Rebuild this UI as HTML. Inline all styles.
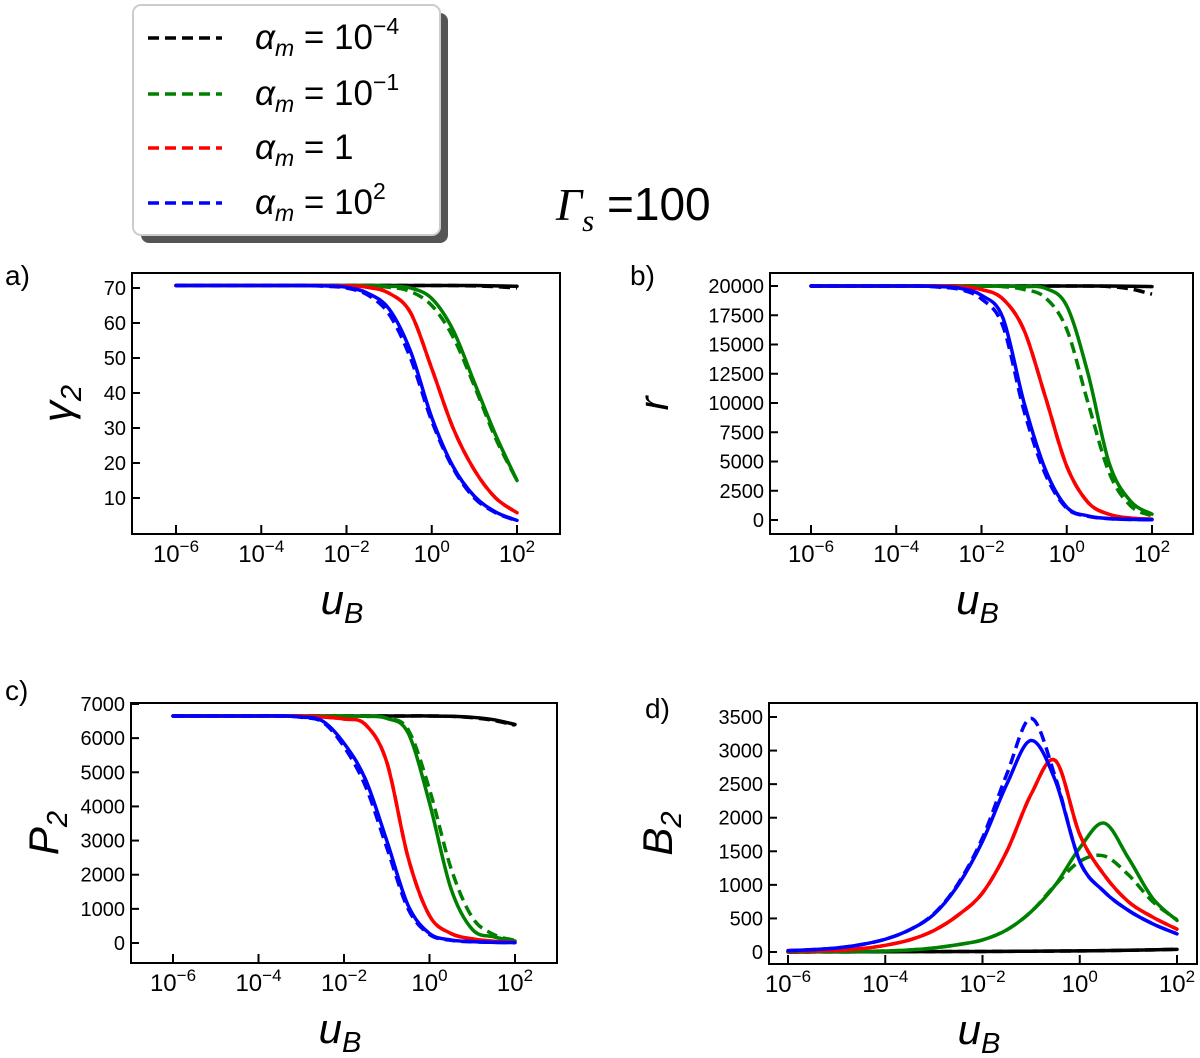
<!DOCTYPE html>
<html><head><meta charset="utf-8"><style>
body{margin:0;background:#fff;}
svg text{font-family:"Liberation Sans",sans-serif;}
</style></head><body>
<svg id="fig" width="1200" height="1053" xmlns="http://www.w3.org/2000/svg">
<g>
<rect x="141" y="13" width="307" height="230" rx="8" fill="#555"/>
<rect x="133" y="5" width="307" height="230" rx="8" fill="#fff" stroke="#ccc" stroke-width="2"/>
<g><line x1="148" y1="38" x2="222" y2="38" stroke="#000" stroke-width="3.5" stroke-dasharray="11 6"/><text x="255" y="49" font-family="Liberation Serif" font-size="35"><tspan font-style="italic">α</tspan><tspan font-size="23" dy="7" font-style="italic">m</tspan><tspan dy="-7"> = 10</tspan><tspan font-size="23" dy="-15">−4</tspan></text></g>
<g><line x1="148" y1="94" x2="222" y2="94" stroke="#008000" stroke-width="3.5" stroke-dasharray="11 6"/><text x="255" y="105" font-family="Liberation Serif" font-size="35"><tspan font-style="italic">α</tspan><tspan font-size="23" dy="7" font-style="italic">m</tspan><tspan dy="-7"> = 10</tspan><tspan font-size="23" dy="-15">−1</tspan></text></g>
<g><line x1="148" y1="148" x2="222" y2="148" stroke="#f00" stroke-width="3.5" stroke-dasharray="11 6"/><text x="255" y="159" font-family="Liberation Serif" font-size="35"><tspan font-style="italic">α</tspan><tspan font-size="23" dy="7" font-style="italic">m</tspan><tspan dy="-7"> = 1</tspan></text></g>
<g><line x1="148" y1="203" x2="222" y2="203" stroke="#00f" stroke-width="3.5" stroke-dasharray="11 6"/><text x="255" y="214" font-family="Liberation Serif" font-size="35"><tspan font-style="italic">α</tspan><tspan font-size="23" dy="7" font-style="italic">m</tspan><tspan dy="-7"> = 10</tspan><tspan font-size="23" dy="-15">2</tspan></text></g>
</g>
<text x="556" y="220" font-size="46"><tspan font-family="Liberation Serif" font-style="italic">Γ</tspan><tspan font-family="Liberation Serif" font-style="italic" font-size="31" dy="11">s</tspan><tspan dy="-11"> =100</tspan></text>
</svg>
<script>
const logU = [-6,-5.5,-5,-4.5,-4,-3.5,-3,-2.5,-2,-1.5,-1,-0.5,0,0.5,1,1.5,2];
const xTickExps = [-6,-4,-2,0,2];
// Panel a: gamma_2
const aBlackS=[70.7,70.7,70.7,70.7,70.7,70.7,70.7,70.7,70.7,70.7,70.7,70.7,70.7,70.7,70.7,70.6,70.5];
const aBlackD=[70.7,70.7,70.7,70.7,70.7,70.7,70.7,70.7,70.7,70.7,70.7,70.7,70.7,70.7,70.6,70.4,70.0];
const aGreenS=[70.7,70.7,70.7,70.7,70.7,70.7,70.7,70.7,70.7,70.7,70.5,70,67,58,43,28,15];
const aGreenD=[70.7,70.7,70.7,70.7,70.7,70.7,70.7,70.7,70.7,70.5,70.2,69,65,56,42,27,15];
const aRedS=[70.7,70.7,70.7,70.7,70.7,70.7,70.7,70.7,70.6,70.2,68.5,63,47,30,18,10,5.8];
const aRedD=[70.7,70.7,70.7,70.7,70.7,70.7,70.7,70.7,70.6,70.2,68.5,63,47,30,18,10,5.8];
const aBlueS=[70.7,70.7,70.7,70.7,70.7,70.7,70.7,70.6,70.2,68.5,64,52,33,19,10.5,6,3.6];
const aBlueD=[70.7,70.7,70.7,70.7,70.7,70.7,70.7,70.5,70.0,68,62.5,50,32,18.5,10,5.8,3.5];
const aTicks=[10,20,30,40,50,60,70];
// Panel b: r
const bBlackS=[20000,20000,20000,20000,20000,20000,20000,20000,20000,20000,20000,20000,20000,20000,20000,19980,19950];
const bBlackD=[20000,20000,20000,20000,20000,20000,20000,20000,20000,20000,20000,20000,20000,20000,19950,19750,19300];
const bGreenS=[20000,20000,20000,20000,20000,20000,20000,20000,20000,20000,19950,19800,18300,12500,4800,1600,500];
const bGreenD=[20000,20000,20000,20000,20000,20000,20000,20000,20000,19950,19700,19000,16300,10000,4000,1200,350];
const bRedS=[20000,20000,20000,20000,20000,20000,20000,19950,19700,18900,16200,10500,4600,1500,480,160,80];
const bRedD=[20000,20000,20000,20000,20000,20000,20000,19950,19700,18900,16200,10500,4600,1500,480,160,80];
const bBlueS=[20000,20000,20000,20000,20000,20000,19950,19800,19200,17300,10000,4300,1100,350,120,50,20];
const bBlueD=[20000,20000,20000,20000,20000,20000,19900,19700,18900,16600,9300,3900,1000,320,110,45,20];
const bTicks=[0,2500,5000,7500,10000,12500,15000,17500,20000];
// Panel c: P_2
const cBlackS=[6650,6650,6650,6650,6650,6650,6650,6650,6650,6650,6650,6650,6650,6640,6610,6540,6400];
const cBlackD=[6650,6650,6650,6650,6650,6650,6650,6650,6650,6650,6650,6650,6650,6640,6600,6520,6380];
const cGreenS=[6650,6650,6650,6650,6650,6650,6650,6650,6650,6640,6580,6150,4100,1600,400,180,60];
const cGreenD=[6650,6650,6650,6650,6650,6650,6650,6650,6650,6640,6590,6250,4500,2200,750,250,80];
const cRedS=[6650,6650,6650,6650,6650,6650,6650,6620,6560,6400,5300,2500,800,280,120,50,20];
const cRedD=[6650,6650,6650,6650,6650,6650,6650,6620,6560,6400,5300,2500,800,280,120,50,20];
const cBlueS=[6650,6650,6650,6650,6650,6650,6620,6500,5850,4800,3000,1100,280,90,40,20,10];
const cBlueD=[6650,6650,6650,6650,6650,6650,6610,6470,5750,4600,2800,1000,250,80,35,20,10];
const cTicks=[0,1000,2000,3000,4000,5000,6000,7000];
// Panel d: B_2
const dBlackS=[0,1,2,3,4,5,6,7,8,10,12,14,17,21,26,32,40];
const dBlackD=[0,1,2,3,4,5,6,7,8,10,12,14,17,21,26,32,40];
const dGreenS=[2,3,5,9,15,30,60,110,180,330,600,1000,1550,1920,1400,800,470];
const dGreenD=[2,3,5,9,15,30,60,110,180,330,600,1000,1350,1430,1150,750,480];
const dRedS=[10,15,25,50,100,180,320,550,880,1500,2350,2850,1750,1150,750,520,340];
const dRedD=[10,15,25,50,100,180,320,550,880,1500,2350,2850,1750,1150,750,520,340];
const dBlueS=[20,35,60,110,190,330,560,1000,1650,2500,3150,2550,1350,900,620,420,270];
const dBlueD=[20,35,60,110,190,330,570,1020,1700,2650,3480,2600,1350,900,620,420,270];
const dTicks=[0,500,1000,1500,2000,2500,3000,3500];

const NS="http://www.w3.org/2000/svg";
const svg=document.getElementById('fig');
function mk(tag,attrs,parent){const e=document.createElementNS(NS,tag);for(const k in attrs)e.setAttribute(k,attrs[k]);(parent||svg).appendChild(e);return e;}
function pathFrom(pts){let d=`M${pts[0][0]},${pts[0][1]}`;for(let i=0;i<pts.length-1;i++){const p0=pts[Math.max(0,i-1)],p1=pts[i],p2=pts[i+1],p3=pts[Math.min(pts.length-1,i+2)];d+=` C${p1[0]+(p2[0]-p0[0])/6},${p1[1]+(p2[1]-p0[1])/6} ${p2[0]-(p3[0]-p1[0])/6},${p2[1]-(p3[1]-p1[1])/6} ${p2[0]},${p2[1]}`;}return d;}

function panel(P){
  const g=mk('g',{});
  
  
  const X=v=>P.x0+(v+6)/8*(P.x1-P.x0);
  const Y=v=>P.yA+(v-P.vA)/(P.vB-P.vA)*(P.yB-P.yA);
  const series=[['#000',P.s[0],P.s[1],'black'],['#008000',P.s[2],P.s[3],'green'],['#f00',P.s[4],P.s[5],'red'],['#00f',P.s[6],P.s[7],'blue']];
  series.forEach(s=>{
    const ps=mk('path',{d:pathFrom(logU.map((u,i)=>[X(u),Y(s[1][i])])),fill:'none',stroke:s[0],'stroke-width':3.5,'stroke-linecap':'round'},g);
    
    
    const pd=mk('path',{d:pathFrom(logU.map((u,i)=>[X(u),Y(s[2][i])])),fill:'none',stroke:s[0],'stroke-width':3.5,'stroke-dasharray':'11 6'},g);
    
    
  });
  const box=mk('rect',{x:P.l,y:P.t,width:P.r-P.l,height:P.b-P.t,fill:'none',stroke:'#000','stroke-width':2},g);
  
  
  xTickExps.forEach(e=>{
    const x=X(e);
    mk('line',{x1:x,y1:P.b,x2:x,y2:P.b-9,stroke:'#000','stroke-width':2},g);
    const t=mk('text',{x:x,y:P.b+28,'text-anchor':'middle','font-family':'Liberation Serif','font-size':24},g);
    
    
    t.innerHTML=`10<tspan font-size="17" dy="-10">${e<0?'−'+(-e):e}</tspan>`;
  });
  P.ticks.forEach(v=>{
    const y=Y(v);
    mk('line',{x1:P.l,y1:y,x2:P.l+8,y2:y,stroke:'#000','stroke-width':2},g);
    const t=mk('text',{x:P.l-6,y:y+7,'text-anchor':'end','font-size':20},g);
    
    
    t.textContent=v;
  });
  const xl=mk('text',{x:(P.l+P.r)/2-4,y:P.b+80,'text-anchor':'middle','font-family':'Liberation Serif','font-style':'italic','font-size':42},g);
  
  
  xl.innerHTML='u<tspan font-size="29" dy="9">B</tspan>';
  const yl=mk('text',{x:0,y:0,'text-anchor':'middle','font-family':'Liberation Serif','font-style':'italic','font-size':42,transform:`translate(${P.yLabX},${(P.t+P.b)/2}) rotate(-90)`},g);
  
  
  yl.innerHTML=P.ylab;
  const pl=mk('text',{x:P.lx,y:P.ly,'font-size':28},g);
  
  
  pl.textContent=P.letter;
}
panel({name:'panel-a-gamma2',letter:'a)',lx:5,ly:285,l:132,r:560,t:273,b:534,x0:176,x1:517,vA:70,yA:288,vB:10,yB:498,ticks:aTicks,yLabX:72,ylab:'γ<tspan font-size="29" dy="9">2</tspan>',s:[aBlackS,aBlackD,aGreenS,aGreenD,aRedS,aRedD,aBlueS,aBlueD]});
panel({name:'panel-b-r',letter:'b)',lx:630,ly:285,l:770,r:1193,t:273,b:534,x0:811,x1:1152,vA:20000,yA:286,vB:0,yB:520,ticks:bTicks,yLabX:668,ylab:'r',s:[bBlackS,bBlackD,bGreenS,bGreenD,bRedS,bRedD,bBlueS,bBlueD]});
panel({name:'panel-c-p2',letter:'c)',lx:5,ly:700,l:131,r:557,t:703,b:963,x0:173,x1:515,vA:7000,yA:704,vB:0,yB:943,ticks:cTicks,yLabX:58,ylab:'P<tspan font-size="29" dy="9">2</tspan>',s:[cBlackS,cBlackD,cGreenS,cGreenD,cRedS,cRedD,cBlueS,cBlueD]});
panel({name:'panel-d-b2',letter:'d)',lx:645,ly:718,l:769,r:1197,t:703,b:964,x0:788,x1:1177,vA:3500,yA:717,vB:0,yB:952,ticks:dTicks,yLabX:672,ylab:'B<tspan font-size="29" dy="9">2</tspan>',s:[dBlackS,dBlackD,dGreenS,dGreenD,dRedS,dRedD,dBlueS,dBlueD]});
</script>
</body></html>
